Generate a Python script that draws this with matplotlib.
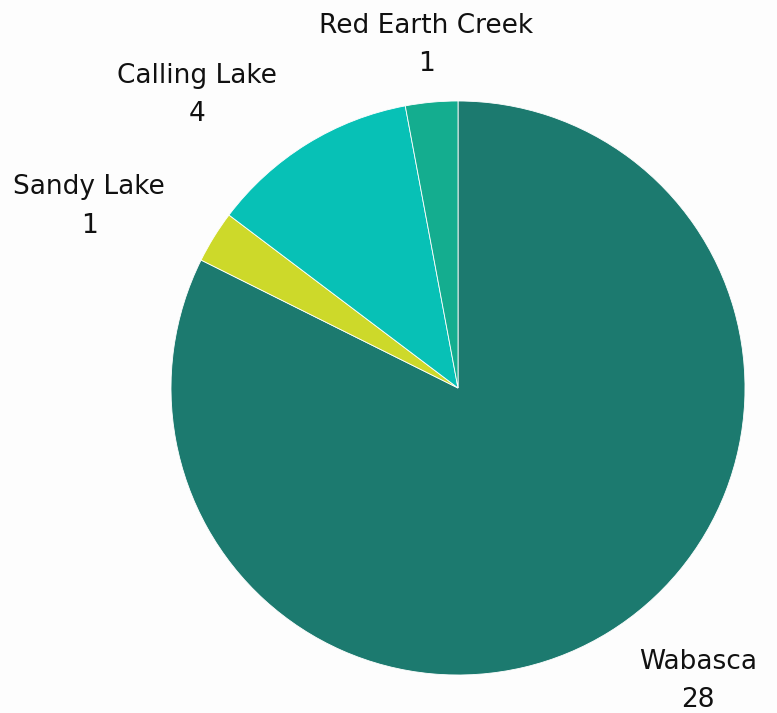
import matplotlib.pyplot as plt
import numpy as np

plt.rcParams['font.family'] = ['DejaVu Sans']

# slices, clockwise from 12 o'clock
names = ['Wabasca', 'Sandy Lake', 'Calling Lake', 'Red Earth Creek']
counts = [28, 1, 4, 1]
colors = ['#1c7a6f', '#cdd92a', '#07c1b6', '#14ad8f']

W, H = 777, 713
cx, cy, rad = 458, 388, 287

fig = plt.figure(figsize=(W / 100, H / 100), dpi=100, facecolor='#fdfdfd')
ax = fig.add_axes([0, 0, 1, 1])
ax.set_facecolor('#fdfdfd')

wedges, _ = ax.pie(counts, colors=colors, startangle=90, counterclock=False,
                   radius=1, wedgeprops=dict(edgecolor='white', linewidth=0.6))

ax.set_xlim(-cx / rad, (W - cx) / rad)
ax.set_ylim(-(H - cy) / rad, cy / rad)
ax.set_aspect('auto')
ax.axis('off')

# labels sit at 1.2 x radius on the slice mid-angle, vertically centred
for w, name, n in zip(wedges, names, counts):
    mid = np.deg2rad((w.theta1 + w.theta2) / 2)
    c, s = np.cos(mid), np.sin(mid)
    if abs(c) < 0.2:
        ha = 'center'
    else:
        ha = 'left' if c > 0 else 'right'
    ax.text(1.2 * c, 1.2 * s, f'{name}\n{n}', ha=ha, va='center',
            multialignment='center', fontsize=19, color='#111111',
            linespacing=1.63)

fig.savefig('out.png', dpi=100, facecolor=fig.get_facecolor())
